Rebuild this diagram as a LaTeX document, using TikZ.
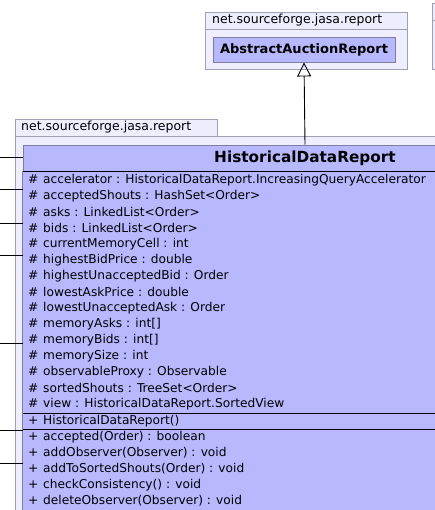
\documentclass[tikz,border=0pt]{standalone}
\usepackage{fontspec}
\setmainfont{DejaVu Sans}
\usetikzlibrary{
    arrows.meta,
    positioning
}
\definecolor{pkgfill}{RGB}{238,238,255}
\definecolor{pkgline}{RGB}{160,160,180}
\definecolor{clsfill}{RGB}{184,184,255}
\definecolor{clsline}{RGB}{125,125,160}
\tikzset{
  pkgbox/.style  = {draw=pkgline, fill=pkgfill, line width=0.9pt},
  clsbox/.style  = {draw=clsline, fill=clsfill, line width=0.9pt},
  pkglabel/.style = {anchor=west, inner sep=0pt,
                     font=\fontsize{12.5}{14}\selectfont},
  member/.style  = {anchor=west, inner sep=0pt,
                    font=\fontsize{12.2}{14}\selectfont},
  stub/.style    = {line width=0.9pt},
  inherit/.style = {-{Triangle[open, length=14pt, width=14pt]}, line width=0.9pt}
}
\newcommand{\vis}[1]{\makebox[15pt][l]{#1}}

\begin{document}
\begin{tikzpicture}[x=1pt, y=-1pt]
\useasboundingbox (0,0) rectangle (435,510);

% packages
\draw[pkgbox] (205,12) rectangle (407,69);
\draw[pkgline, line width=0.9pt] (205,29) -- (407,29);
\node[pkglabel] (toppkg) at (212,20.5) {net.sourceforge.jasa.report};
\draw[pkgbox] (432,3) rectangle (470,69);
\draw[pkgline, line width=0.9pt] (432,20) -- (470,20);

\draw[pkgbox] (15,119) rectangle (217,136);
\draw[pkgbox] (15,136) rectangle (470,530);
\node[pkglabel] (pkg) at (21,127.5) {net.sourceforge.jasa.report};

% superclass
\node[clsbox, minimum width=182pt, minimum height=25pt, inner sep=0pt,
      font=\fontsize{13}{15}\selectfont\bfseries] (abs) at (304,49.5)
      {AbstractAuctionReport};

% class
\node[clsbox, minimum width=564pt, minimum height=26pt, inner sep=0pt,
      font=\fontsize{15.3}{17}\selectfont\bfseries] (hdr) at (305,158)
      {HistoricalDataReport};
\draw[clsbox] (hdr.south west) rectangle (587,530);
\draw[line width=0.9pt] (hdr.south west) -- (hdr.south east);
\draw[line width=0.9pt] (23,413) -- (587,413);
\draw[line width=0.9pt] (23,429) -- (587,429);

\foreach \m [count=\i from 0] in {
  accelerator : HistoricalDataReport.IncreasingQueryAccelerator,
  acceptedShouts : HashSet<Order>,
  asks : LinkedList<Order>,
  bids : LinkedList<Order>,
  currentMemoryCell : int,
  highestBidPrice : double,
  highestUnacceptedBid : Order,
  lowestAskPrice : double,
  lowestUnacceptedAsk : Order,
  memoryAsks : int[],
  memoryBids : int[],
  memorySize : int,
  observableProxy : Observable,
  sortedShouts : TreeSet<Order>,
  view : HistoricalDataReport.SortedView}
  \node[member] (f\i) at (28,180+16*\i) {\vis{\#}\m};

\node[member] (ctor) at (28,421) {\vis{+}HistoricalDataReport()};

\foreach \m [count=\i from 0] in {
  accepted(Order) : boolean,
  addObserver(Observer) : void,
  addToSortedShouts(Order) : void,
  checkConsistency() : void,
  deleteObserver(Observer) : void}
  \node[member] (op\i) at (28,437+16*\i) {\vis{+}\m};

% connectors
\draw[inherit] (hdr.north) -- (abs.south);

\foreach \y [count=\i] in {157,189,223,255,343,430,463} {
  \coordinate (s\i) at (0,\y);
  \draw[stub] (s\i) -- (s\i -| hdr.west);
}

\end{tikzpicture}
\end{document}
